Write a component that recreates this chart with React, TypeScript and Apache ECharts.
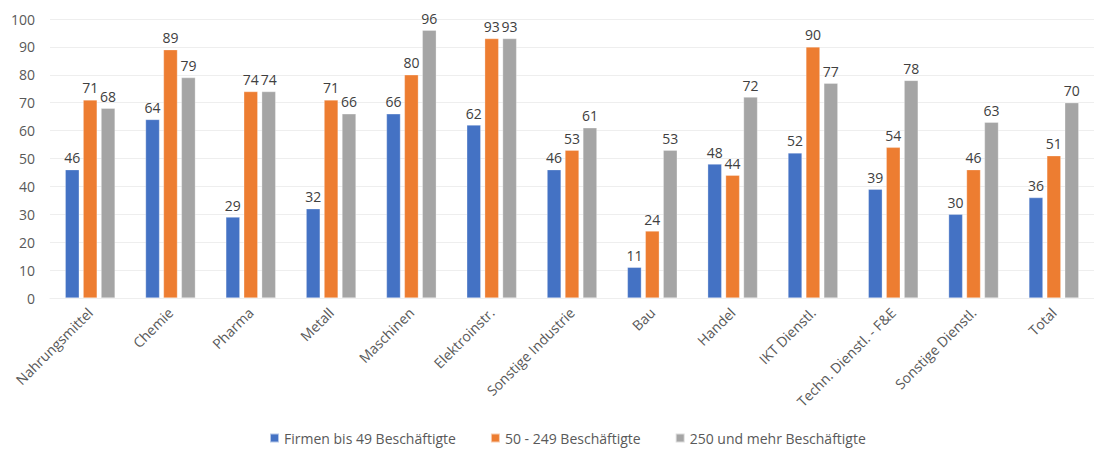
import React, { useEffect, useRef } from "react";
import * as echarts from "echarts";

const categories = [
  "Nahrungsmittel",
  "Chemie",
  "Pharma",
  "Metall",
  "Maschinen",
  "Elektroinstr.",
  "Sonstige Industrie",
  "Bau",
  "Handel",
  "IKT Dienstl.",
  "Techn. Dienstl. - F&E",
  "Sonstige Dienstl.",
  "Total",
];

const small = [46, 64, 29, 32, 66, 62, 46, 11, 48, 52, 39, 30, 36];
const medium = [71, 89, 74, 71, 80, 93, 53, 24, 44, 90, 54, 46, 51];
const large = [68, 79, 74, 66, 96, 93, 61, 53, 72, 77, 78, 63, 70];

const seriesNames = [
  "Firmen bis 49 Beschäftigte",
  "50 - 249 Beschäftigte",
  "250 und mehr Beschäftigte",
];
const colors = ["#4472C4", "#ED7D31", "#A5A5A5"];

const FONT = "'Open Sans', 'Noto Sans', sans-serif";

export default function App() {
  const ref = useRef<HTMLDivElement>(null);

  useEffect(() => {
    if (!ref.current) return;
    const chart = echarts.init(ref.current, undefined, { renderer: "svg" });
    const data = [small, medium, large];
    chart.setOption({
      animation: false,
      textStyle: { fontFamily: FONT },
      color: colors,
      grid: { left: 50, top: 19, width: 1047, bottom: 152, containLabel: false },
      legend: {
        bottom: 0,
        left: 264,
        itemWidth: 9,
        itemHeight: 9,
        itemGap: 34,
        icon: "rect",
        textStyle: { fontSize: 14, color: "#595959", fontFamily: FONT },
        data: seriesNames,
      },
      xAxis: {
        type: "category",
        data: categories,
        axisLine: { show: true, lineStyle: { color: "#EEEEEE", width: 1 } },
        axisTick: { show: false },
        axisLabel: {
          rotate: 45,
          interval: 0,
          margin: 12,
          fontSize: 14,
          color: "#595959",
          fontFamily: FONT,
        },
      },
      yAxis: {
        type: "value",
        min: 0,
        max: 100,
        interval: 10,
        axisLine: { show: false },
        axisTick: { show: false },
        splitLine: { lineStyle: { color: "#EEEEEE", width: 1 } },
        axisLabel: { fontSize: 14, color: "#595959", margin: 15, fontFamily: FONT },
      },
      series: data.map((d, i) => ({
        name: seriesNames[i],
        type: "bar",
        data: d,
        barWidth: 14,
        barGap: "28%",
        itemStyle: { color: colors[i], borderColor: "rgba(255,255,255,0.6)", borderWidth: 0.5 },
        label: {
          show: true,
          position: "top",
          distance: 5,
          fontSize: 14,
          color: "#404040",
          fontFamily: FONT,
        },
      })),
    });
    return () => chart.dispose();
  }, []);

  return (
    <div
      ref={ref}
      style={{ position: "fixed", left: 0, top: 0, width: 1094, height: 450, background: "#fff" }}
    />
  );
}
